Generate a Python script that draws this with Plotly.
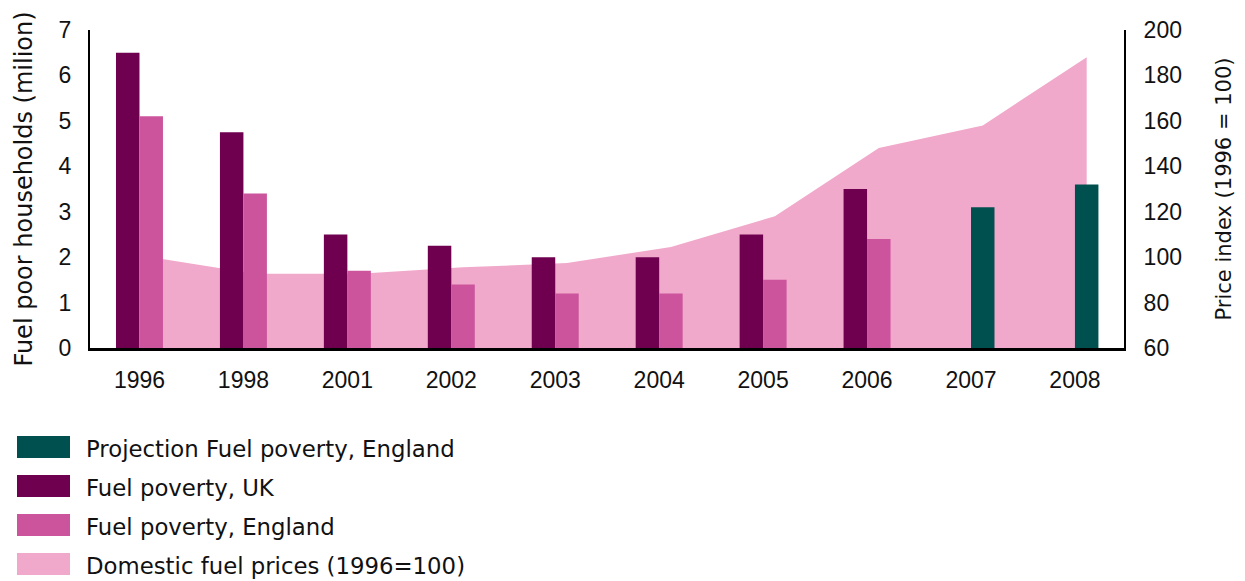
import plotly.graph_objects as go

# ---- data ----
years = ["1996", "1998", "2001", "2002", "2003", "2004", "2005", "2006", "2007", "2008"]
fuel_poverty_uk = [6.5, 4.75, 2.5, 2.25, 2.0, 2.0, 2.5, 3.5, None, None]
fuel_poverty_england = [5.1, 3.4, 1.7, 1.4, 1.2, 1.2, 1.5, 2.4, None, None]
projection_england = [None, None, None, None, None, None, None, None, 3.1, 3.6]
fuel_price_index = [100, 92.7, 92.7, 95.5, 97.4, 104.5, 118, 148, 158, 188]

legend_labels = ["Projection Fuel poverty, England", "Fuel poverty, UK",
                 "Fuel poverty, England", "Domestic fuel prices (1996=100)"]

# ---- style ----
C_PROJ = "#00504f"
C_UK = "#6e004f"
C_ENG = "#cc549c"
C_AREA = "#f1a9cb"
TICK_FONT = "Liberation Sans"
TEXT_FONT = "DejaVu Sans"
FS = 23
BAR_W = 0.226

idx = list(range(len(years)))
area_x = [i + BAR_W / 2 for i in idx]

fig = go.Figure()

# price index area (primary y, right side) drawn beneath the bars
fig.add_trace(go.Scatter(
    x=area_x, y=fuel_price_index, mode="lines", fill="tozeroy",
    fillcolor=C_AREA, line=dict(width=0, color=C_AREA),
    name=legend_labels[3], yaxis="y", showlegend=False, hoverinfo="y"))

fig.add_trace(go.Bar(x=idx, y=fuel_poverty_uk, width=BAR_W, offset=-BAR_W,
                     marker=dict(color=C_UK, line=dict(width=0)),
                     name=legend_labels[1], yaxis="y2", showlegend=False))
fig.add_trace(go.Bar(x=idx, y=fuel_poverty_england, width=BAR_W, offset=0,
                     marker=dict(color=C_ENG, line=dict(width=0)),
                     name=legend_labels[2], yaxis="y2", showlegend=False))
fig.add_trace(go.Bar(x=idx, y=projection_england, width=BAR_W, offset=0,
                     marker=dict(color=C_PROJ, line=dict(width=0)),
                     name=legend_labels[0], yaxis="y2", showlegend=False))

# ---- layout (page body adds an 8px offset) ----
OFF = 8
W, H = 1245 - OFF, 581 - OFF
L, T = 90 - OFF, 30 - OFF
R = W - (1124 - OFF)
B = H - (348 - OFF)
pw, ph = W - L - R, H - T - B


def px_x(p):
    return (p - OFF - L) / pw


def px_y(p):
    return (H - B - (p - OFF)) / ph


shapes = []
annotations = []
legend_colors = [C_PROJ, C_UK, C_ENG, C_AREA]
row_tops = [436, 475, 514, 553]
for lab, col, top in zip(legend_labels, legend_colors, row_tops):
    shapes.append(dict(type="rect", xref="paper", yref="paper",
                       x0=px_x(17), x1=px_x(70), y0=px_y(top + 22), y1=px_y(top),
                       fillcolor=col, line=dict(width=0)))
    annotations.append(dict(xref="paper", yref="paper", x=px_x(84), y=px_y(top + 13),
                            text=lab, showarrow=False, xanchor="left", yanchor="middle",
                            font=dict(family=TEXT_FONT, size=22.8, color="#111111")))

fig.update_layout(
    width=W, height=H,
    margin=dict(l=L, r=R, t=T, b=B, autoexpand=False),
    paper_bgcolor="white", plot_bgcolor="white",
    barmode="overlay",
    showlegend=False,
    font=dict(family=TICK_FONT, size=FS, color="#111111"),
    xaxis=dict(range=[-0.476, 9.472], tickmode="array", tickvals=idx, ticktext=years,
               showline=True, linecolor="black", linewidth=3, ticks="",
               showgrid=False, zeroline=False, ticklabelstandoff=9,
               tickfont=dict(family=TICK_FONT, size=FS)),
    yaxis=dict(side="right", range=[60, 200], dtick=20, tick0=60,
               showline=True, linecolor="black", linewidth=2, ticks="",
               showgrid=False, zeroline=False, ticklabelstandoff=13,
               tickfont=dict(family=TICK_FONT, size=FS),
               title=dict(text="Price index (1996 = 100)", standoff=35,
                          font=dict(family=TEXT_FONT, size=21))),
    yaxis2=dict(overlaying="y", side="left", range=[0, 7], dtick=1,
                showline=True, linecolor="black", linewidth=2, ticks="",
                showgrid=False, zeroline=False, ticklabelstandoff=12,
                tickfont=dict(family=TICK_FONT, size=FS),
                title=dict(text="Fuel poor households (milion)", standoff=19,
                           font=dict(family=TEXT_FONT, size=24))),
    shapes=shapes,
    annotations=annotations,
)

fig.write_html("out.html")
